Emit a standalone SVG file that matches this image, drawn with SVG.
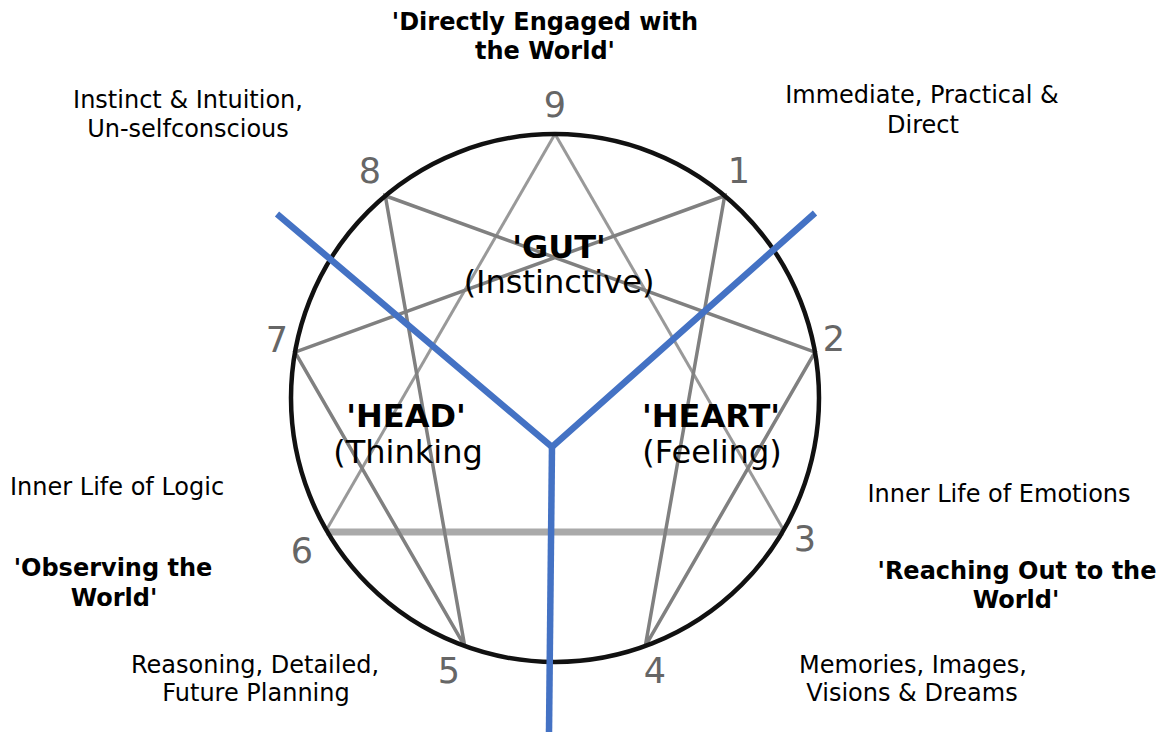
<svg xmlns="http://www.w3.org/2000/svg" width="1170" height="732" viewBox="0 0 1170 732">
  <style>
    .txt { font-family: "DejaVu Sans", Verdana, sans-serif; font-size: 24px; fill: #000; text-anchor: middle; }
    .bold { font-weight: bold; }
    .big { font-size: 32px; }
    .num { font-family: "DejaVu Sans", Verdana, sans-serif; font-size: 35px; fill: #666666; text-anchor: middle; }
    .hex { stroke: #808080; stroke-width: 3.5; fill: none; }
    .tri { stroke: #999999; stroke-width: 3; fill: none; }
    .base { stroke: #aaaaaa; stroke-width: 7; fill: none; }
    .blue { stroke: #4472c4; stroke-width: 6.5; fill: none; stroke-linejoin: miter; }
  </style>
  <rect width="1170" height="732" fill="#ffffff"/>

  <g id="connectors">
    <line class="base" x1="326.4" y1="532" x2="783.6" y2="532"/>
    <line class="tri" x1="555" y1="134" x2="783.6" y2="530"/>
    <line class="tri" x1="555" y1="134" x2="326.4" y2="530"/>
    <polygon class="hex" points="724.7,195.8 645.3,646.1 815,352.2 385.3,195.8 464.7,646.1 295,352.2"/>
  </g>

  <g id="circle">
    <circle cx="555" cy="398" r="264" fill="none" stroke="#111" stroke-width="4.5"/>
  </g>

  <g id="centers">
    <polyline class="blue" points="277,214 552,447 815,213"/>
    <line class="blue" x1="552" y1="446" x2="549" y2="732"/>
  </g>

  <g id="numbers">
    <text class="num" x="555" y="117">9</text>
    <text class="num" x="739" y="183">1</text>
    <text class="num" x="834" y="351">2</text>
    <text class="num" x="805" y="551">3</text>
    <text class="num" x="655" y="683">4</text>
    <text class="num" x="449" y="683">5</text>
    <text class="num" x="302" y="563">6</text>
    <text class="num" x="277" y="352">7</text>
    <text class="num" x="370" y="183">8</text>
  </g>

  <g id="gut">
    <text class="txt bold big" x="559" y="258">'GUT'</text>
    <text class="txt big" x="559" y="293">(Instinctive)</text>
  </g>
  <g id="head">
    <text class="txt bold big" x="406" y="427">'HEAD'</text>
    <text class="txt big" x="408" y="463">(Thinking</text>
  </g>
  <g id="heart">
    <text class="txt bold big" x="711" y="427">'HEART'</text>
    <text class="txt big" x="712" y="463">(Feeling)</text>
  </g>

  <g id="title-top">
    <text class="txt bold" x="545" y="30">'Directly Engaged with</text>
    <text class="txt bold" x="545" y="59">the World'</text>
  </g>
  <g id="instinct">
    <text class="txt" x="188" y="108">Instinct &amp; Intuition,</text>
    <text class="txt" x="188" y="137">Un-selfconscious</text>
  </g>
  <g id="immediate">
    <text class="txt" x="922" y="103">Immediate, Practical &amp;</text>
    <text class="txt" x="923" y="133">Direct</text>
  </g>
  <g id="logic">
    <text class="txt" x="10" y="495" style="text-anchor:start">Inner Life of Logic</text>
  </g>
  <g id="observing">
    <text class="txt bold" x="113" y="576">'Observing the</text>
    <text class="txt bold" x="114" y="606">World'</text>
  </g>
  <g id="emotions">
    <text class="txt" x="999" y="502">Inner Life of Emotions</text>
  </g>
  <g id="reaching">
    <text class="txt bold" x="1017" y="579">'Reaching Out to the</text>
    <text class="txt bold" x="1016" y="608">World'</text>
  </g>
  <g id="reasoning">
    <text class="txt" x="255" y="673">Reasoning, Detailed,</text>
    <text class="txt" x="256" y="701">Future Planning</text>
  </g>
  <g id="memories">
    <text class="txt" x="913" y="673">Memories, Images,</text>
    <text class="txt" x="912" y="701">Visions &amp; Dreams</text>
  </g>
</svg>
